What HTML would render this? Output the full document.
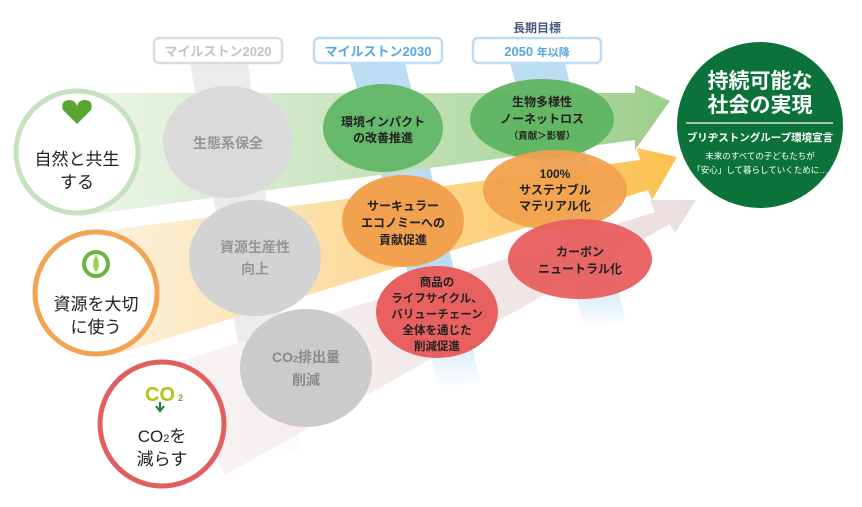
<!DOCTYPE html>
<html><head><meta charset="utf-8"><style>
html,body{margin:0;padding:0;background:#fff;}
svg{display:block;font-family:"Liberation Sans","Noto Sans CJK JP",sans-serif;font-weight:bold;}
</style></head><body>
<svg width="862" height="507" viewBox="0 0 862 507" xmlns="http://www.w3.org/2000/svg">
<defs>
<linearGradient id="gG" x1="0" x2="1" y1="0" y2="0"><stop offset="0" stop-color="#eef6ea"/><stop offset="1" stop-color="#9dcf8c"/></linearGradient>
<linearGradient id="gO" x1="0" x2="1" y1="0" y2="0"><stop offset="0" stop-color="#fdf2de"/><stop offset="1" stop-color="#fbc14f"/></linearGradient>
<linearGradient id="gR" x1="0" x2="1" y1="0" y2="0"><stop offset="0" stop-color="#f9f4f4"/><stop offset="1" stop-color="#ecdede"/></linearGradient>
<linearGradient id="gB" x1="0" x2="0" y1="0" y2="1"><stop offset="0.75" stop-color="#bcdcf3"/><stop offset="1" stop-color="#bcdcf3" stop-opacity="0"/></linearGradient>
<linearGradient id="gGr" x1="0" x2="0" y1="0" y2="1"><stop offset="0.75" stop-color="#ececec"/><stop offset="1" stop-color="#ececec" stop-opacity="0"/></linearGradient>
</defs>
<polygon points="190,63 248,63 300,450 258,460" fill="url(#gGr)"/>
<polygon points="350,63 405,63 480,380 440,390" fill="url(#gB)"/>
<polygon points="510,63 565,63 625,320 585,330" fill="url(#gB)"/>
<polygon points="80,93 635,93 635,85 670,101 635,150 635,140 80,216" fill="url(#gG)"/>
<polygon points="96,232 640,160 637,148 677,157 652,200 648,190 110,356" fill="url(#gO)"/>
<polygon points="165,366 655,212 650,200 696,200 675,233 670,224 225,475" fill="url(#gR)"/>
<rect x="154" y="38" width="128" height="25" rx="5" fill="#fff" stroke="#dcdcdc" stroke-width="2.5"/>
<text x="218" y="56" font-size="13" fill="#c4c4c4" text-anchor="middle">マイルストン2020</text>
<rect x="314" y="38" width="128" height="25" rx="5" fill="#fff" stroke="#bcdcf3" stroke-width="2.5"/>
<text x="378" y="56" font-size="13" fill="#5aa8dc" text-anchor="middle">マイルストン2030</text>
<rect x="473" y="38" width="128" height="25" rx="5" fill="#fff" stroke="#bcdcf3" stroke-width="2.5"/>
<text x="537" y="56" font-size="13" fill="#5aa8dc" text-anchor="middle">2050 <tspan font-size="11">年以降</tspan></text>
<text x="537" y="32" font-size="12" fill="#4a5a7a" text-anchor="middle">長期目標</text>
<ellipse cx="228" cy="142" rx="65" ry="56" fill="#dadada"/>
<text x="228" y="148" font-size="14" fill="#959595" text-anchor="middle">生態系保全</text>
<ellipse cx="255" cy="258" rx="66" ry="58" fill="#d3d3d3"/>
<text x="255" y="252" font-size="14" fill="#959595" text-anchor="middle">資源生産性</text>
<text x="255" y="274" font-size="14" fill="#959595" text-anchor="middle">向上</text>
<ellipse cx="306" cy="368" rx="66" ry="59" fill="#cbcbcb"/>
<text x="306" y="362" font-size="14" fill="#8a8a8a" text-anchor="middle">CO<tspan font-size="9">2</tspan>排出量</text>
<text x="306" y="385" font-size="14" fill="#8a8a8a" text-anchor="middle">削減</text>
<ellipse cx="383" cy="128" rx="60" ry="44" fill="#66b96a"/>
<text x="383" y="126" font-size="12" fill="#222" text-anchor="middle">環境インパクト</text>
<text x="383" y="142" font-size="12" fill="#222" text-anchor="middle">の改善推進</text>
<ellipse cx="403" cy="221" rx="61" ry="46" fill="#f2a14f"/>
<text x="403" y="210" font-size="12" fill="#222" text-anchor="middle">サーキュラー</text>
<text x="403" y="227" font-size="12" fill="#222" text-anchor="middle">エコノミーへの</text>
<text x="403" y="244" font-size="12" fill="#222" text-anchor="middle">貢献促進</text>
<ellipse cx="437" cy="312" rx="61" ry="46" fill="#e86060"/>
<text x="437" y="286" font-size="11.5" fill="#222" text-anchor="middle">商品の</text>
<text x="437" y="302" font-size="11.5" fill="#222" text-anchor="middle">ライフサイクル、</text>
<text x="437" y="318" font-size="11.5" fill="#222" text-anchor="middle">バリューチェーン</text>
<text x="437" y="334" font-size="11.5" fill="#222" text-anchor="middle">全体を通じた</text>
<text x="437" y="350" font-size="11.5" fill="#222" text-anchor="middle">削減促進</text>
<ellipse cx="542" cy="119" rx="72" ry="40" fill="#5fb461" fill-opacity="0.95"/>
<ellipse cx="555" cy="190" rx="72" ry="40" fill="#f1a04c" fill-opacity="0.93"/>
<ellipse cx="580" cy="259" rx="72" ry="40" fill="#e85f5f" fill-opacity="0.95"/>
<text x="542" y="106" font-size="12" fill="#222" text-anchor="middle">生物多様性</text>
<text x="542" y="123" font-size="12" fill="#222" text-anchor="middle">ノーネットロス</text>
<text x="542" y="139" font-size="9.5" fill="#222" text-anchor="middle">（貢献＞影響）</text>
<text x="555" y="178" font-size="12" fill="#222" text-anchor="middle">100%</text>
<text x="555" y="194" font-size="12" fill="#222" text-anchor="middle">サステナブル</text>
<text x="555" y="210" font-size="12" fill="#222" text-anchor="middle">マテリアル化</text>
<text x="580" y="256" font-size="12" fill="#222" text-anchor="middle">カーボン</text>
<text x="580" y="273" font-size="12" fill="#222" text-anchor="middle">ニュートラル化</text>
<circle cx="77" cy="152" r="61" fill="#fff" stroke="#c5e2bf" stroke-width="5"/>
<path d="M77,124 L63,110 Q60,100 70,100 Q75,100 77,106 Q79,100 84,100 Q94,100 91,110 Z" fill="#5aa534"/>
<text x="77" y="165" font-size="17" fill="#222" text-anchor="middle" font-weight="normal">自然と共生</text>
<text x="77" y="188" font-size="17" fill="#222" text-anchor="middle" font-weight="normal">する</text>
<circle cx="96" cy="293" r="61" fill="#fff" stroke="#f2a353" stroke-width="5"/>
<circle cx="96" cy="264" r="12" fill="none" stroke="#6cb33f" stroke-width="4"/>
<path d="M96,255 Q90,265 96,272 Q102,265 96,255Z" fill="#9dcf5a"/>
<text x="96" y="310" font-size="17" fill="#222" text-anchor="middle" font-weight="normal">資源を大切</text>
<text x="96" y="333" font-size="17" fill="#222" text-anchor="middle" font-weight="normal">に使う</text>
<circle cx="162" cy="424" r="62" fill="#fff" stroke="#e35e5e" stroke-width="5"/>
<text x="160" y="401" font-size="20" fill="#a8c81a" text-anchor="middle">CO</text>
<text x="178" y="401" font-size="9" fill="#6aa83a">2</text>
<path d="M160,402 L160,410 M156,406 L160,411 L164,406" stroke="#1d7a3a" stroke-width="2" fill="none"/>
<text x="162" y="442" font-size="17" fill="#222" text-anchor="middle" font-weight="normal">CO<tspan font-size="11">2</tspan>を</text>
<text x="162" y="465" font-size="17" fill="#222" text-anchor="middle" font-weight="normal">減らす</text>
<circle cx="760" cy="125" r="83" fill="#0b733a"/>
<text x="760" y="88" font-size="21" fill="#fff" text-anchor="middle">持続可能な</text>
<text x="760" y="112" font-size="21" fill="#fff" text-anchor="middle">社会の実現</text>
<line x1="686" y1="123" x2="833" y2="123" stroke="#fff" stroke-width="1.2"/>
<text x="760" y="141" font-size="10.5" fill="#fff" text-anchor="middle">ブリヂストングループ環境宣言</text>
<text x="760" y="159" font-size="8.5" fill="#fff" text-anchor="middle" font-weight="normal">未来のすべての子どもたちが</text>
<text x="760" y="173" font-size="8.5" fill="#fff" text-anchor="middle" font-weight="normal">「安心」して暮らしていくために…</text>
</svg>
</body></html>
